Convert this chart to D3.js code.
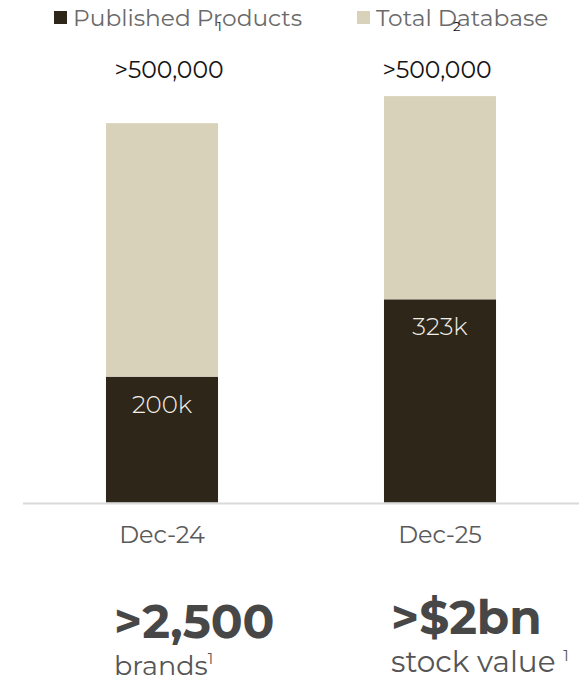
<!DOCTYPE html>
<html>
<head>
<meta charset="utf-8">
<script src="https://cdn.jsdelivr.net/npm/d3@7"></script>
<style>
  html, body { margin: 0; padding: 0; background: #fff; }
  svg { display: block; }
  text { font-family: Montserrat, "DejaVu Sans", sans-serif; }
</style>
</head>
<body>
<div id="chart"></div>
<script>
// Product database growth, in thousands of products
const categories = ["Dec-24", "Dec-25"];
const published = [200, 323];
const totalDatabase = [603, 646];
const publishedLabels = ["200k", "323k"];
const totalLabels = [">500,000", ">500,000"];
const seriesNames = ["Published Products", "Total Database"];

const W = 579, H = 683;
const colors = { published: "#2e2619", total: "#d8d2ba" };

const svg = d3.select("#chart").append("svg")
  .attr("width", W).attr("height", H);

const x = d3.scaleBand()
  .domain(categories)
  .range([23, 579])
  .paddingInner(0.597)
  .paddingOuter(0.2985);

const y = d3.scaleLinear()
  .domain([0, 650])
  .range([502.5, 93.6]);

const rows = categories.map((c, i) => ({
  cat: c,
  pub: published[i],
  rest: totalDatabase[i] - published[i],
  pubLabel: publishedLabels[i],
  totLabel: totalLabels[i]
}));

const stack = d3.stack().keys(["pub", "rest"]);
const layers = stack(rows);
const fill = { pub: colors.published, rest: colors.total };

svg.append("g").selectAll("g")
  .data(layers)
  .join("g")
  .attr("fill", d => fill[d.key])
  .selectAll("rect")
  .data(d => d)
  .join("rect")
  .attr("x", d => x(d.data.cat))
  .attr("width", x.bandwidth())
  .attr("y", d => y(d[1]))
  .attr("height", d => y(d[0]) - y(d[1]));

// baseline
svg.append("line")
  .attr("x1", 23).attr("x2", 579)
  .attr("y1", 503.5).attr("y2", 503.5)
  .attr("stroke", "#d9d9d9").attr("stroke-width", 2);

// category axis labels
const xAxis = d3.axisBottom(x).tickSize(0).tickPadding(0);
const ax = svg.append("g").attr("transform", "translate(0,503)").call(xAxis);
ax.select(".domain").remove();
ax.selectAll("text")
  .attr("dy", null)
  .attr("y", 40)
  .attr("font-size", 24)
  .attr("fill", "#5a5a5a")
  .style("font-family", 'Montserrat, "DejaVu Sans", sans-serif');

// values inside the published segments
svg.append("g").selectAll("text")
  .data(rows)
  .join("text")
  .attr("x", d => x(d.cat) + x.bandwidth() / 2)
  .attr("y", d => y(d.pub) + 36)
  .attr("text-anchor", "middle")
  .attr("font-size", 24.5)
  .attr("font-weight", 300)
  .attr("fill", "#f2efe8")
  .text(d => d.pubLabel);

// total labels above the bars
const totalOffsets = [7, -3];
svg.append("g").selectAll("text")
  .data(rows)
  .join("text")
  .attr("x", (d, i) => x(d.cat) + x.bandwidth() / 2 + totalOffsets[i])
  .attr("y", 78)
  .attr("text-anchor", "middle")
  .attr("font-size", 23.5)
  .attr("fill", "#141414")
  .text(d => d.totLabel);

// legend
const legend = [
  { name: seriesNames[0], color: colors.published, x: 54, sup: "1", supX: 217 },
  { name: seriesNames[1], color: colors.total, x: 357, sup: "2", supX: 453 }
];
const lg = svg.append("g");
legend.forEach(l => {
  lg.append("rect").attr("x", l.x).attr("y", 11).attr("width", 13).attr("height", 13).attr("fill", l.color);
  lg.append("text").attr("x", l.x + 19).attr("y", 26).attr("font-size", 23.3).attr("fill", "#6a6a6a").text(l.name);
  lg.append("text").attr("x", l.supX).attr("y", 31).attr("font-size", 13).attr("fill", "#111").text(l.sup);
});

// key figures beneath the chart
const figures = [
  { big: ">2,500", small: "brands", sup: "1", x: 114, bigY: 638, smallY: 675, bigSize: 47, smallSize: 27 },
  { big: ">$2bn", small: "stock value ", sup: "1", x: 391, bigY: 634, smallY: 672, bigSize: 47, smallSize: 29.5 }
];
figures.forEach(f => {
  svg.append("text").attr("x", f.x).attr("y", f.bigY)
    .attr("font-size", f.bigSize).attr("font-weight", 700).attr("fill", "#474747").text(f.big);
  const t = svg.append("text").attr("x", f.x).attr("y", f.smallY)
    .attr("font-size", f.smallSize).attr("fill", "#555").text(f.small);
  t.append("tspan").attr("font-size", 15).attr("dy", -11).text(f.sup);
});
</script>
</body>
</html>
